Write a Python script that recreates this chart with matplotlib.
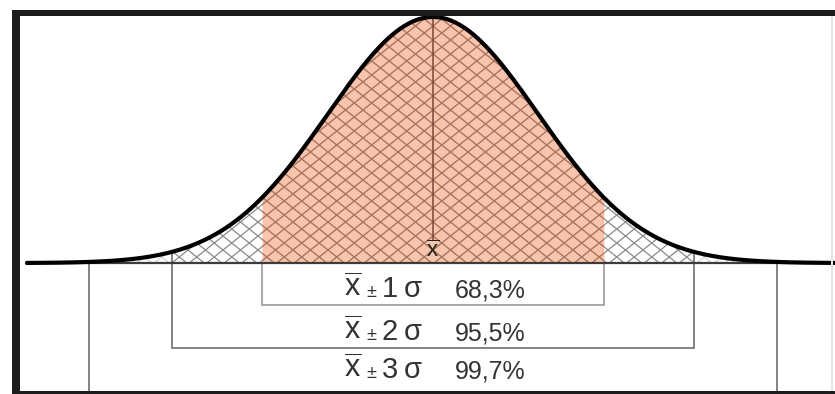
import numpy as np
import matplotlib
matplotlib.use('Agg')
import matplotlib.pyplot as plt
from matplotlib.collections import LineCollection
from matplotlib.patches import Rectangle

# Half-widths of the drawn intervals (in sd units), their labels and coverage
SIGMA_LEVELS = ['1', '2', '3']
HALF_WIDTHS = [1.63, 2.49, 3.28]
COVERAGE = ['68,3%', '95,5%', '99,7%']
BOX_DEPTHS = [0.171, 0.346, 0.54]      # how far each bracket reaches below the axis
TEXT_BASELINES = [-0.138, -0.313, -0.467]

X_MIN, X_MAX = -4.124, 3.829
Y_MIN, Y_MAX = -0.532, 1.069
W, H = 835, 394

plt.rcParams['font.family'] = ['Liberation Sans', 'DejaVu Sans']
plt.rcParams['mathtext.fontset'] = 'custom'
plt.rcParams['mathtext.rm'] = 'Liberation Sans'
plt.rcParams['mathtext.it'] = 'Liberation Sans'

PX_X = W / (X_MAX - X_MIN)
PX_Y = H / (Y_MAX - Y_MIN)


def gauss(z):
    return np.exp(-0.5 * z ** 2)


def crosshatch(ax, clip, spacing, slope, color, lw):
    """Two families of slanted lines (pixel spacing/slope) clipped to a fill."""
    m = slope * PX_X / PX_Y
    dc = spacing / PX_Y
    span = abs(m) * (X_MAX - X_MIN)
    segs = []
    for sign in (1, -1):
        for c in np.arange(Y_MIN - span, Y_MAX + span, dc):
            segs.append([(X_MIN, c + sign * m * X_MIN), (X_MAX, c + sign * m * X_MAX)])
    lc = LineCollection(segs, colors=color, linewidths=lw, zorder=2)
    ax.add_collection(lc)
    lc.set_clip_path(clip.get_paths()[0], ax.transData)


def fill_band(ax, a, b, face):
    z = np.linspace(a, b, 300)
    return ax.fill_between(z, 0, gauss(z), color=face, lw=0, zorder=1)


fig = plt.figure(figsize=(W / 100, H / 100), dpi=100)
ax = fig.add_axes([0, 0, 1, 1])
ax.set_xlim(X_MIN, X_MAX)
ax.set_ylim(Y_MIN, Y_MAX)
ax.axis('off')

b1, b2, b3 = HALF_WIDTHS

# central band (+-1 sigma), salmon with brown cross hatch
core = fill_band(ax, -b1, b1, '#f9c4ac')
crosshatch(ax, core, 14, 0.8, '#a87560', 1.0)

# +-1..2 sigma bands, gray hatch
for a, b in [(-b2, -b1), (b1, b2)]:
    band = fill_band(ax, a, b, 'white')
    crosshatch(ax, band, 14, 0.8, '#8a8a8a', 0.9)

# +-2..3 sigma bands, faint hatch
for a, b in [(-b3, -b2), (b2, b3)]:
    band = fill_band(ax, a, b, 'white')
    crosshatch(ax, band, 14, 0.8, '#cccccc', 0.8)

# brackets under the axis
for i, b in enumerate(HALF_WIDTHS):
    top = 0 if i == 0 else gauss(b)
    col = '#9a9a9a' if i == 0 else '#6e6e6e'
    ax.plot([-b, -b, b, b], [top, -BOX_DEPTHS[i], -BOX_DEPTHS[i], top],
            color=col, lw=1.2, zorder=3, solid_joinstyle='miter')

# axis line and the curve
ax.plot([-3.88, X_MAX], [0, 0], color='#3c3c3c', lw=1.6, zorder=3)
z = np.linspace(-3.88, X_MAX, 800)
ax.plot(z, gauss(z), color='black', lw=3.0, zorder=4, solid_capstyle='butt')

# mean line and its label
ax.plot([0, 0], [0.095, gauss(0)], color='#7a4636', lw=1.1, zorder=3)
ax.text(0, 0.024, r'$\overline{\mathrm{x}}$', fontsize=16, ha='center',
        va='baseline', color='#222222', zorder=5)

# interval labels
for lvl, pct, yb in zip(SIGMA_LEVELS, COVERAGE, TEXT_BASELINES):
    kw = dict(va='baseline', ha='center', color='#333333', zorder=5)
    ax.text(-0.767, yb, r'$\overline{\mathrm{x}}$', fontsize=22, **kw)
    ax.text(-0.590, yb, '±', fontsize=13, **kw)
    ax.text(-0.414, yb, lvl, fontsize=21, **kw)
    ax.text(-0.195, yb, 'σ', fontsize=21, **kw)
    ax.text(0.543, yb, pct, fontsize=18, **kw)


# picture frame
def px_rect(x0, y0, x1, y1, color):
    fig.add_artist(Rectangle((x0 / W, 1 - y1 / H), (x1 - x0) / W, (y1 - y0) / H,
                             transform=fig.transFigure, color=color, lw=0, zorder=10))


px_rect(12, 10, W, 16, '#1c1c1c')
px_rect(12, 10, 20, H, '#1c1c1c')
px_rect(12, 391, W, H, '#1c1c1c')
px_rect(831, 16, 833, 391, '#e4e4e4')

fig.savefig('out.png', dpi=100)
plt.close(fig)
